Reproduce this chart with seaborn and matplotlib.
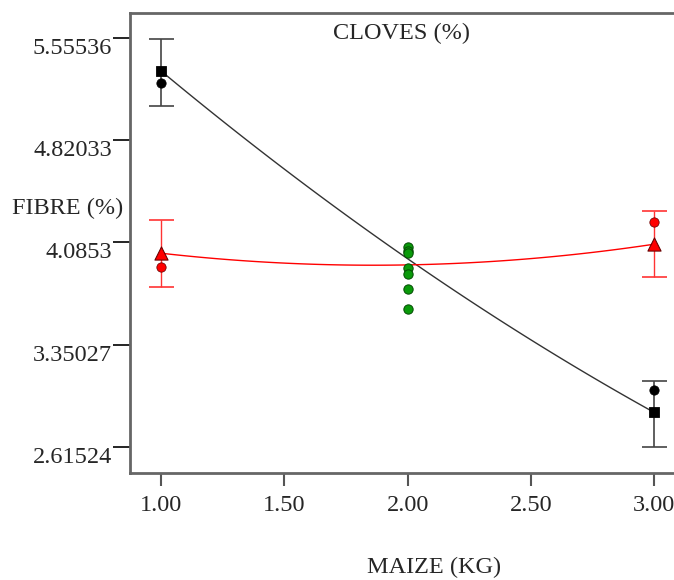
import numpy as np
import pandas as pd
import matplotlib
matplotlib.use('Agg')
import matplotlib.pyplot as plt
import seaborn as sns

# values
maize = [1.0, 2.0, 3.0]
black_pred = [5.318, 3.968, 2.863]
red_pred = [4.008, 3.924, 4.073]

end_x = [1.0, 3.0]
black_mean = [5.318, 2.863]
black_low = [5.069, 2.614]
black_high = [5.546, 3.091]
red_mean = [4.008, 4.073]
red_low = [3.768, 3.836]
red_high = [4.245, 4.314]

black_obs = [5.232, 3.026]
red_obs = [3.912, 4.231]
green_obs = [4.056, 4.027, 4.008, 3.905, 3.857, 3.752, 3.606]

y_ticks = [2.61524, 3.35027, 4.0853, 4.82033, 5.55536]
y_tick_labels = ['2.61524', '3.35027', '4.0853', '4.82033', '5.55536']
x_ticks = [1.0, 1.5, 2.0, 2.5, 3.0]
x_tick_labels = ['1.00', '1.50', '2.00', '2.50', '3.00']

sns.set_style('white')
plt.rcParams['font.family'] = ['Liberation Serif', 'DejaVu Serif']
fs = 17.5

fig = plt.figure(figsize=(6.74, 5.8), dpi=100)
ax = fig.add_axes([0.1929, 0.1845, 0.8243, 0.7931])

pred_df = pd.DataFrame({'maize': maize, 'black': black_pred, 'red': red_pred})
sns.regplot(data=pred_df, x='maize', y='black', order=2, ci=None, scatter=False,
            line_kws={'color': '#333333', 'linewidth': 1.0}, ax=ax)
sns.regplot(data=pred_df, x='maize', y='red', order=2, ci=None, scatter=False,
            line_kws={'color': '#ff0000', 'linewidth': 1.0}, ax=ax)

# interval bars
bm = np.array(black_mean)
ax.errorbar(end_x, bm, yerr=[bm - np.array(black_low), np.array(black_high) - bm],
            fmt='none', ecolor='#444444', elinewidth=1.2, capsize=9, capthick=1.2)
rm = np.array(red_mean)
ax.errorbar(end_x, rm, yerr=[rm - np.array(red_low), np.array(red_high) - rm],
            fmt='none', ecolor='#ff3333', elinewidth=1.0, capsize=9, capthick=1.2)

# observations
sns.scatterplot(x=end_x, y=black_obs, color='black', s=45, edgecolor='black', ax=ax, zorder=5)
sns.scatterplot(x=end_x, y=red_obs, color='#ff0000', s=45, edgecolor='#660000', ax=ax, zorder=5)
sns.scatterplot(x=[2.0] * len(green_obs), y=green_obs, color='#0a9a0a', s=45,
                edgecolor='#044d04', linewidth=0.7, ax=ax, zorder=5)

# design points
sns.scatterplot(x=end_x, y=black_mean, marker='s', color='black', s=55, edgecolor='black', ax=ax, zorder=6)
sns.scatterplot(x=end_x, y=red_mean, marker='^', color='#ff0000', s=90, edgecolor='#660000', ax=ax, zorder=6)

ax.set_xlim(0.874, 3.127)
ax.set_ylim(2.428, 5.735)
ax.set_xticks(x_ticks)
ax.set_xticklabels(x_tick_labels, fontsize=fs)
ax.set_yticks(y_ticks)
ax.set_yticklabels(y_tick_labels, fontsize=fs, va='top')
ax.tick_params(axis='x', direction='out', length=9.5, width=1.5, color='#555555', pad=6, bottom=True)
ax.tick_params(axis='y', direction='out', length=12, width=1.2, color='black', pad=1, left=True)

for side in ['left', 'bottom', 'top', 'right']:
    ax.spines[side].set_color('#666666')
    ax.spines[side].set_linewidth(2)

ax.set_xlabel('')
ax.set_ylabel('')
ax.text(0.488, 0.955, 'CLOVES (%)', transform=ax.transAxes, fontsize=fs,
        ha='center', va='center')
fig.text(12 / 674, 1 - 208 / 580, 'FIBRE (%)', fontsize=fs, ha='left', va='center')
fig.text(434 / 674, 1 - 567 / 580, 'MAIZE (KG)', fontsize=fs, ha='center', va='center')

fig.savefig('out.png', dpi=100)
